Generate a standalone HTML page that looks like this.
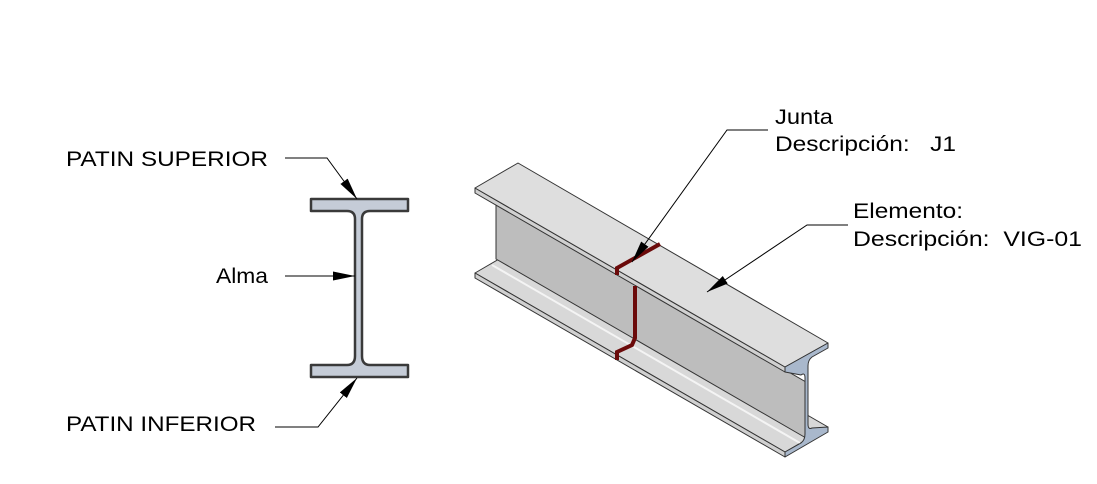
<!DOCTYPE html>
<html><head><meta charset="utf-8"><style>
html,body{margin:0;padding:0;background:#fff;}
svg{display:block;}
text{font-family:"Liberation Sans",Arial,sans-serif;font-size:21px;fill:#000;}
</style></head><body>
<svg width="1097" height="484" viewBox="0 0 1097 484" xmlns="http://www.w3.org/2000/svg">
<defs>
<marker id="ar" markerWidth="22" markerHeight="9" refX="22" refY="4.5" orient="auto" markerUnits="userSpaceOnUse">
<path d="M0,0 L22,4.5 L0,9 Z" fill="#000"/>
</marker>
</defs>

<path d="M311,199 H408 V211 H370 Q362,211 362,219 V356 Q362,365 370,365 H408 V377 H311 V365 H347 Q355,365 355,356 V219 Q355,211 347,211 H311 Z" fill="#c5ccd7" stroke="#3a3a3a" stroke-width="2.5" stroke-linejoin="round"/>

<text x="66" y="166" textLength="202" lengthAdjust="spacingAndGlyphs">PATIN SUPERIOR</text>
<polyline points="285,158 327,158 357,199" fill="none" stroke="#000" stroke-width="1" marker-end="url(#ar)"/>
<text x="216" y="283" textLength="52" lengthAdjust="spacingAndGlyphs">Alma</text>
<line x1="285" y1="276" x2="355" y2="276" stroke="#000" stroke-width="1" marker-end="url(#ar)"/>
<text x="66" y="431" textLength="190" lengthAdjust="spacingAndGlyphs">PATIN INFERIOR</text>
<polyline points="275,427 318,427 357,378" fill="none" stroke="#000" stroke-width="1" marker-end="url(#ar)"/>

<g stroke="#333" stroke-width="1" stroke-linejoin="round">
<polygon points="475,273 518,248 828,427 785,452" fill="#d8d8d8"/>
<line x1="492" y1="265" x2="800" y2="443" stroke="#f4f4f4" stroke-width="2"/>
<polygon points="475,273 785,452 785,457 475,278" fill="#d0d0d0"/>
<polygon points="496,203 806,382 806,438 496,259" fill="#bdbdbd"/>
<polygon points="475,188 785,367 785,372 475,193" fill="#d0d0d0"/>
<polygon points="475,188 518,163 828,343 785,367" fill="#dedede"/>
<path d="M785,367 L828,343 L828,348 L812,357 Q808,360 808,366 L808,424 Q808,430 812,428 L828,427 L828,432 L785,457 L785,452 L801,443 Q805,440 805,434 L805,378 Q805,372 801,375 L785,372 Z" fill="#a9b8cc" stroke="#333"/>
</g>

<g fill="none" stroke="#6b0a0a" stroke-width="4" stroke-linecap="butt">
<polyline points="660,244 617,268 617,275"/>
<polyline points="635,286 635,338 632,345 617,352 617,360"/>
</g>

<text x="775" y="124" textLength="58" lengthAdjust="spacingAndGlyphs">Junta</text>
<text x="775" y="151" textLength="181" lengthAdjust="spacingAndGlyphs" xml:space="preserve">Descripción:   J1</text>
<polyline points="768,130 727,130 632,262" fill="none" stroke="#000" stroke-width="1" marker-end="url(#ar)"/>
<text x="853" y="218" textLength="110" lengthAdjust="spacingAndGlyphs">Elemento:</text>
<text x="853" y="246" textLength="229" lengthAdjust="spacingAndGlyphs" xml:space="preserve">Descripción:  VIG-01</text>
<polyline points="848,225 807,225 707,292" fill="none" stroke="#000" stroke-width="1" marker-end="url(#ar)"/>
</svg>
</body></html>
